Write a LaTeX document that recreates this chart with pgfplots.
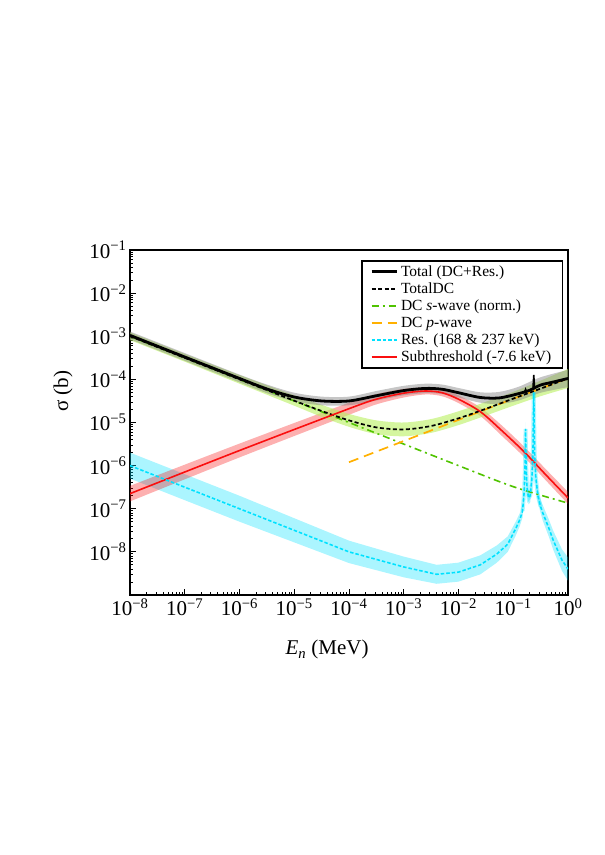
\documentclass[border=0pt]{standalone}
\usepackage{fontspec}
\setmainfont{Liberation Serif}
\usepackage{pgfplots}
\pgfplotsset{compat=1.18}
\usepgfplotslibrary{fillbetween}
\definecolor{swave}{RGB}{80,195,0}
\definecolor{pwave}{RGB}{255,176,0}
\definecolor{resc}{RGB}{0,225,255}
\definecolor{subr}{RGB}{250,15,15}
\definecolor{dcband}{RGB}{185,240,95}
\begin{document}
\begin{tikzpicture}
\path (0,0) rectangle (605pt,855pt);
\begin{axis}[
  at={(130pt,260pt)}, anchor=south west,
  width=438pt, height=345pt, scale only axis,
  xmode=log, ymode=log,
  xmin=1e-8, xmax=1, ymin=1e-9, ymax=1e-1,
  xtick={1e-8,1e-7,1e-6,1e-5,1e-4,1e-3,1e-2,1e-1,1},
  xticklabels={10\textsuperscript{−8},10\textsuperscript{−7},10\textsuperscript{−6},10\textsuperscript{−5},10\textsuperscript{−4},10\textsuperscript{−3},10\textsuperscript{−2},10\textsuperscript{−1},10\textsuperscript{0}},
  ytick={1e-9,1e-8,1e-7,1e-6,1e-5,1e-4,1e-3,1e-2,1e-1},
  yticklabels={,10\textsuperscript{−8},10\textsuperscript{−7},10\textsuperscript{−6},10\textsuperscript{−5},10\textsuperscript{−4},10\textsuperscript{−3},10\textsuperscript{−2},10\textsuperscript{−1}},
  tick label style={font=\fontsize{21}{25}\selectfont},
  xtick pos=bottom, ytick pos=left,
  tick align=inside,
  major tick length=6pt, minor tick length=3pt,
  every tick/.style={black, line width=0.8pt},
  axis line style={line width=2.4pt},
  xlabel={{\itshape E}\textsubscript{\itshape n} (MeV)},
  ylabel={σ (b)},
  label style={font=\fontsize{21}{25}\selectfont},
  xlabel style={at={(axis description cs:0.45,-0.159)}, anchor=center},
  ylabel style={at={(axis description cs:-0.153,0.591)}, anchor=center},
  legend style={at={(0.9886,0.971)}, anchor=north east, draw=black, line width=1.5pt,
    font=\fontsize{15.5}{17}\selectfont, inner xsep=8pt, inner ysep=2.5pt, row sep=0pt,
    nodes={inner ysep=0.5pt, inner xsep=3pt, text height=12.5pt, text depth=3.5pt}},
  legend cell align=left,
  legend image code/.code={\draw[#1] (0pt,0pt) -- (25pt,0pt);},
]
% legend entries
\addlegendimage{draw=black, line width=2.8pt}
\addlegendentry{Total (DC+Res.)}
\addlegendimage{draw=black, line width=1.8pt, dash pattern=on 4pt off 2.5pt}
\addlegendentry{TotalDC}
\addlegendimage{draw=swave, line width=1.8pt, dash pattern=on 7pt off 4pt on 2pt off 4pt}
\addlegendentry{DC \textit{s}-wave (norm.)}
\addlegendimage{draw=pwave, line width=1.8pt, dash pattern=on 10pt off 6pt}
\addlegendentry{DC \textit{p}-wave}
\addlegendimage{draw=resc, line width=1.8pt, dash pattern=on 3.5pt off 2pt}
\addlegendentry{Res. (168 \& 237 keV)}
\addlegendimage{draw=subr, line width=1.8pt}
\addlegendentry{Subthreshold (-7.6 keV)}

% ---- cyan band ----
\addplot[name path=cu, draw=none, forget plot] coordinates {
(1e-8,2.0e-6)(1e-7,6.31e-7)(1e-6,2.0e-7)(1e-5,6.03e-8)(1e-4,1.82e-8)(1e-3,7.76e-9)
(3.98e-3,5.01e-9)(1e-2,5.62e-9)(2.51e-2,8.32e-9)(5.01e-2,1.41e-8)(7.94e-2,2.29e-8)
(0.112,5.13e-8)(0.132,7.94e-8)(0.148,1.26e-7)(0.1585,3.55e-7)(0.164,1.41e-6)(0.168,1.0e-5)
(0.1718,1.41e-6)(0.178,4.47e-7)(0.1905,2.51e-7)(0.204,2.82e-7)(0.219,7.08e-7)(0.229,2.82e-6)
(0.237,7.08e-5)(0.2455,2.82e-6)(0.257,7.94e-7)(0.282,2.82e-7)(0.316,1.58e-7)(0.347,1.2e-7)
(0.447,5.62e-8)(0.537,3.09e-8)(0.776,1.15e-8)(1,7.41e-9)};
\addplot[name path=cl, draw=none, forget plot] coordinates {
(1e-8,5.01e-7)(1e-7,1.58e-7)(1e-6,5.01e-8)(1e-5,1.66e-8)(1e-4,5.5e-9)(1e-3,2.57e-9)
(3.98e-3,1.82e-9)(1e-2,2.04e-9)(2.51e-2,3.02e-9)(5.01e-2,5.62e-9)(7.94e-2,1.0e-8)
(0.112,2.45e-8)(0.132,3.98e-8)(0.148,6.31e-8)(0.1585,1.78e-7)(0.164,7.08e-7)(0.168,5.01e-6)
(0.1718,7.08e-7)(0.178,2.24e-7)(0.1905,1.26e-7)(0.204,1.41e-7)(0.219,3.55e-7)(0.229,1.41e-6)
(0.237,3.55e-5)(0.2455,1.41e-6)(0.257,3.98e-7)(0.282,1.41e-7)(0.316,7.94e-8)(0.347,5.25e-8)
(0.447,2.24e-8)(0.537,1.12e-8)(0.776,3.63e-9)(1,2.14e-9)};
\addplot[resc, fill opacity=0.33, forget plot] fill between[of=cu and cl];
\addplot[resc, opacity=0.3, line width=4pt, forget plot] coordinates {
(0.148,8.91e-8)(0.1585,2.51e-7)(0.164,1.0e-6)(0.168,7.08e-6)(0.1718,1.0e-6)(0.178,3.16e-7)
(0.1905,1.78e-7)(0.204,2.0e-7)(0.219,5.01e-7)(0.229,2.0e-6)(0.237,5.01e-5)(0.2455,2.0e-6)
(0.257,5.62e-7)(0.282,2.0e-7)(0.316,1.12e-7)};

% ---- red band ----
\addplot[name path=ru, draw=none, smooth, forget plot] coordinates {
(1e-8,3.39e-7)(1e-6,3.24e-6)(1e-4,2.88e-5)(3.16e-4,4.57e-5)(1e-3,6.03e-5)(2.51e-3,6.46e-5)
(5.01e-3,5.89e-5)(1e-2,4.27e-5)(2.51e-2,2.24e-5)(6.31e-2,8.32e-6)(0.158,2.75e-6)(0.398,8.13e-7)(1,2.45e-7)};
\addplot[name path=rl, draw=none, smooth, forget plot] coordinates {
(1e-8,1.48e-7)(1e-6,1.55e-6)(1e-4,1.51e-5)(3.16e-4,2.63e-5)(1e-3,3.8e-5)(2.51e-3,4.47e-5)
(5.01e-3,4.07e-5)(1e-2,2.82e-5)(2.51e-2,1.41e-5)(6.31e-2,4.79e-6)(0.158,1.58e-6)(0.398,4.47e-7)(1,1.29e-7)};
\addplot[subr, fill opacity=0.33, forget plot] fill between[of=ru and rl];

% ---- TotalDC band ----
\addplot[name path=du, draw=none, smooth, forget plot] coordinates {
(1e-8,1.23e-3)(1e-7,3.89e-4)(1e-6,1.26e-4)(1e-5,4.27e-5)(3.16e-5,2.57e-5)(1e-4,1.58e-5)
(3.16e-4,1.12e-5)(1e-3,1.0e-5)(3.16e-3,1.2e-5)(1e-2,1.82e-5)(3.16e-2,3.02e-5)(0.1,5.13e-5)(0.316,9.33e-5)(1,1.74e-4)};
\addplot[name path=dl, draw=none, smooth, forget plot] coordinates {
(1e-8,8.13e-4)(1e-7,2.57e-4)(1e-6,7.94e-5)(1e-5,2.45e-5)(3.16e-5,1.35e-5)(1e-4,7.94e-6)
(3.16e-4,5.37e-6)(1e-3,4.79e-6)(3.16e-3,5.75e-6)(1e-2,8.71e-6)(3.16e-2,1.45e-5)(0.1,2.45e-5)(0.316,4.07e-5)(1,6.31e-5)};
\addplot[dcband, fill opacity=0.6, forget plot] fill between[of=du and dl];

% ---- Total band ----
\addplot[name path=tu, draw=none, smooth, forget plot] coordinates {
(1e-8,1.29e-3)(1e-7,4.07e-4)(1e-6,1.29e-4)(3.16e-6,7.59e-5)(1e-5,4.9e-5)(3.16e-5,3.98e-5)
(1e-4,3.98e-5)(3.16e-4,5.37e-5)(1e-3,7.08e-5)(2.51e-3,7.94e-5)(5.01e-3,7.59e-5)(1e-2,6.31e-5)
(2.51e-2,5.01e-5)(5.62e-2,5.13e-5)(0.126,6.76e-5)(0.316,1.12e-4)(1,1.66e-4)};
\addplot[name path=tl, draw=none, smooth, forget plot] coordinates {
(1e-8,8.51e-4)(1e-7,2.69e-4)(1e-6,8.51e-5)(3.16e-6,4.79e-5)(1e-5,3.09e-5)(3.16e-5,2.51e-5)
(1e-4,2.51e-5)(3.16e-4,3.24e-5)(1e-3,4.27e-5)(2.51e-3,4.79e-5)(5.01e-3,4.57e-5)(1e-2,3.8e-5)
(2.51e-2,2.88e-5)(5.62e-2,2.69e-5)(0.126,3.24e-5)(0.316,4.9e-5)(1,6.61e-5)};
\addplot[gray, fill opacity=0.45, forget plot] fill between[of=tu and tl];

% ---- lines ----
% s-wave
\addplot[swave, line width=1.6pt, dash pattern=on 7pt off 4pt on 2pt off 4pt, smooth, forget plot] coordinates {
(1e-8,1.0e-3)(1e-6,1.0e-4)(1e-4,1.0e-5)(1e-3,3.16e-6)(1e-2,1.0e-6)(0.1,3.25e-7)(1,1.35e-7)};
% p-wave
\addplot[pwave, line width=1.7pt, dash pattern=on 10pt off 6pt, smooth, forget plot] coordinates {
(1e-4,1.2e-6)(1e-3,3.72e-6)(1e-2,1.15e-5)(0.1,3.55e-5)(1,1.05e-4)};
% TotalDC
\addplot[black, line width=1.7pt, dash pattern=on 4pt off 2.5pt, smooth, forget plot] coordinates {
(1e-8,1.0e-3)(1e-7,3.16e-4)(1e-6,1.0e-4)(1e-5,3.2e-5)(3.16e-5,1.85e-5)(1e-4,1.12e-5)
(3.16e-4,7.7e-6)(1e-3,6.9e-6)(3.16e-3,8.3e-6)(1e-2,1.25e-5)(3.16e-2,2.08e-5)(0.1,3.58e-5)(0.316,6.1e-5)(1,1.05e-4)};
% Subthreshold
\addplot[subr, line width=1.6pt, smooth, forget plot] coordinates {
(1e-8,2.24e-7)(1e-6,2.24e-6)(1e-4,2.09e-5)(3.16e-4,3.47e-5)(1e-3,4.79e-5)(2.51e-3,5.37e-5)
(5.01e-3,4.9e-5)(1e-2,3.47e-5)(2.51e-2,1.78e-5)(6.31e-2,6.31e-6)(0.158,2.09e-6)(0.398,6.03e-7)(1,1.78e-7)};
% Resonances
\addplot[resc, line width=1.6pt, dash pattern=on 3.5pt off 2pt, forget plot] coordinates {
(1e-8,1.0e-6)(1e-7,3.16e-7)(1e-6,1.0e-7)(1e-5,3.16e-8)(1e-4,1.0e-8)(1e-3,4.47e-9)
(3.98e-3,3.02e-9)(1e-2,3.39e-9)(2.51e-2,5.01e-9)(5.01e-2,8.91e-9)(7.94e-2,1.51e-8)
(0.112,3.55e-8)(0.132,5.62e-8)(0.148,8.91e-8)(0.1585,2.51e-7)(0.164,1.0e-6)(0.168,7.08e-6)
(0.1718,1.0e-6)(0.178,3.16e-7)(0.1905,1.78e-7)(0.204,2.0e-7)(0.219,5.01e-7)(0.229,2.0e-6)
(0.237,5.01e-5)(0.2455,2.0e-6)(0.257,5.62e-7)(0.282,2.0e-7)(0.316,1.12e-7)(0.347,7.94e-8)
(0.447,3.55e-8)(0.537,1.86e-8)(0.776,6.46e-9)(1,3.98e-9)};
% Total
\addplot[black, line width=2.8pt, smooth, forget plot] coordinates {
(1e-8,1.05e-3)(1e-7,3.3e-4)(1e-6,1.05e-4)(3.16e-6,6.0e-5)(1e-5,3.9e-5)(3.16e-5,3.16e-5)
(1e-4,3.16e-5)(3.16e-4,4.17e-5)(1e-3,5.5e-5)(2.51e-3,6.17e-5)(5.01e-3,5.9e-5)(1e-2,4.9e-5)
(2.51e-2,3.8e-5)(5.62e-2,3.72e-5)(0.126,4.68e-5)(0.2,5.6e-5)(0.316,7.4e-5)(0.5,8.5e-5)(1,1.05e-4)};
\addplot[black, line width=1.5pt, forget plot] coordinates {
(0.162,5.2e-5)(0.168,5.9e-5)(0.174,5.3e-5)};
\addplot[black, line width=1.5pt, forget plot] coordinates {
(0.229,6.4e-5)(0.237,1.26e-4)(0.2455,6.6e-5)};
\end{axis}
\end{tikzpicture}
\end{document}
